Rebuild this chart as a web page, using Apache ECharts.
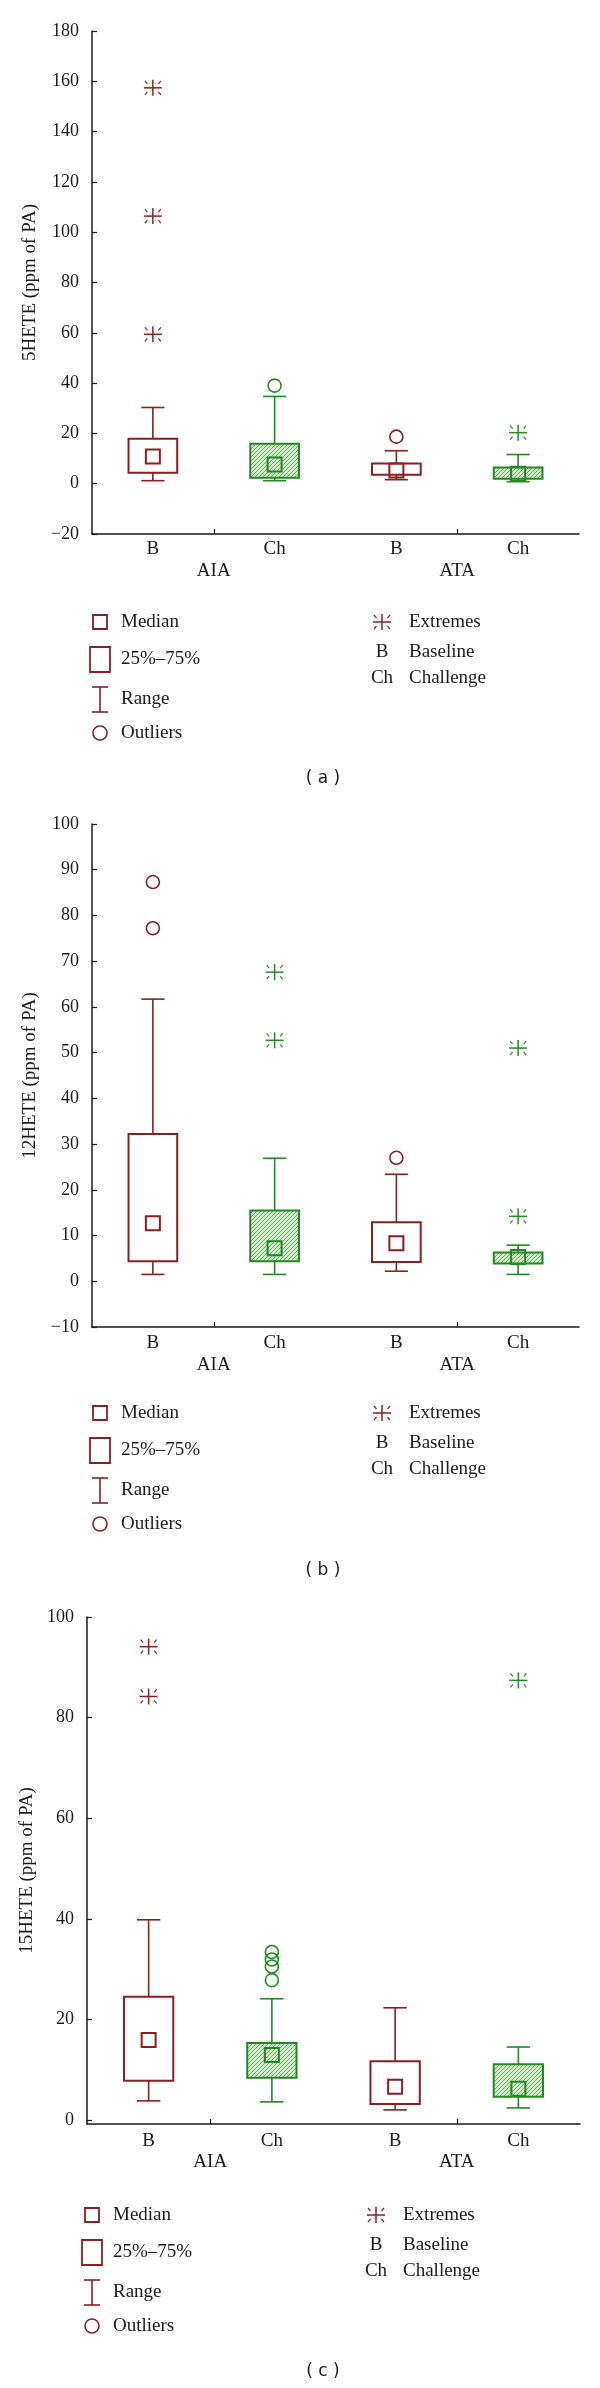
<!DOCTYPE html>
<html>
<head>
<meta charset="utf-8">
<title>HETE box plots</title>
<script src="https://cdn.jsdelivr.net/npm/echarts@6.0.0/dist/echarts.min.js"></script>
<style>
    body { margin: 0; background: #fff; }
    #chartDiv { width: 600px; height: 2388px; }
</style>
</head>
<body>
<div id="chartDiv"></div>
<script>
var catLabels = ['B', 'Ch', 'B', 'Ch'];
var groupLabels = ['AIA', 'ATA'];

// (a) 5HETE
var aMin = [1.2, 1.2, 1.6, 0.8];
var aQ1 = [4.4, 2.4, 3.6, 2.0];
var aMed = [10.8, 7.6, 5.2, 4.0];
var aQ3 = [17.9, 15.9, 8.0, 6.4];
var aMax = [30.3, 34.7, 13.1, 11.6];
var aOutliers = [[1, 39.0], [2, 18.7]];
var aExtremes = [[0, 157.4], [0, 106.4], [0, 59.4], [3, 20.3]];

// (b) 12HETE
var bMin = [1.5, 1.5, 2.2, 1.5];
var bQ1 = [4.4, 4.4, 4.2, 3.9];
var bMed = [12.7, 7.2, 8.3, 5.3];
var bQ3 = [32.2, 15.5, 12.9, 6.3];
var bMax = [61.7, 26.9, 23.4, 7.9];
var bOutliers = [[0, 87.3], [0, 77.2], [2, 27.0]];
var bExtremes = [[1, 67.6], [1, 52.7], [3, 51.0], [3, 14.2]];

// (c) 15HETE
var cMin = [3.8, 3.6, 2.0, 2.4];
var cQ1 = [7.8, 8.4, 3.2, 4.6];
var cMed = [15.9, 12.9, 6.6, 6.2];
var cQ3 = [24.5, 15.3, 11.7, 11.1];
var cMax = [39.8, 24.1, 22.3, 14.5];
var cOutliers = [[1, 33.4], [1, 31.9], [1, 30.5], [1, 27.8]];
var cExtremes = [[0, 94.1], [0, 84.2], [3, 87.4]];

var RED = '#8a1f1f';
var GREEN = '#1f8a1f';
var INK = '#1a1a1a';
var SERIF = '"Liberation Serif", "DejaVu Serif", serif';

function makeHatch() {
    var cv = document.createElement('canvas');
    cv.width = 4;
    cv.height = 4;
    var ctx = cv.getContext('2d');
    ctx.fillStyle = '#d2ebcd';
    ctx.fillRect(0, 0, 4, 4);
    ctx.strokeStyle = '#6cb064';
    ctx.lineWidth = 1;
    ctx.beginPath();
    ctx.moveTo(-1, 5);
    ctx.lineTo(5, -1);
    ctx.stroke();
    return {image: cv, repeat: 'repeat'};
}

var hatch = makeHatch();
var catColors = [RED, GREEN, RED, GREEN];
var catFills = ['none', hatch, 'none', hatch];

function boxRows(mins, q1s, meds, q3s, maxs) {
    var rows = [];
    for (var i = 0; i < mins.length; i++) {
        rows.push([i, mins[i], q1s[i], meds[i], q3s[i], maxs[i]]);
    }
    return rows;
}

function renderBox(params, api) {
    var i = api.value(0);
    var x = api.coord([i, 0])[0];
    var band = api.size([1, 0])[0];
    var half = band * 0.2;
    var cap = band * 0.095;
    var yMin = api.coord([i, api.value(1)])[1];
    var yQ1 = api.coord([i, api.value(2)])[1];
    var yMed = api.coord([i, api.value(3)])[1];
    var yQ3 = api.coord([i, api.value(4)])[1];
    var yMax = api.coord([i, api.value(5)])[1];
    var c = catColors[i];
    var ls = {stroke: c, lineWidth: 1.6, fill: null};
    return {
        type: 'group',
        children: [
            {type: 'rect', shape: {x: x - half, y: yQ3, width: half * 2, height: yQ1 - yQ3},
                style: {fill: catFills[i], stroke: c, lineWidth: 2}},
            {type: 'line', shape: {x1: x, y1: yQ3, x2: x, y2: yMax}, style: ls},
            {type: 'line', shape: {x1: x - cap, y1: yMax, x2: x + cap, y2: yMax}, style: ls},
            {type: 'line', shape: {x1: x, y1: yQ1, x2: x, y2: yMin}, style: ls},
            {type: 'line', shape: {x1: x - cap, y1: yMin, x2: x + cap, y2: yMin}, style: ls},
            {type: 'rect', shape: {x: x - 7, y: yMed - 7, width: 14, height: 14},
                style: {fill: 'none', stroke: c, lineWidth: 2}}
        ]
    };
}

function renderOutlier(params, api) {
    var i = api.value(0);
    var p = api.coord([i, api.value(1)]);
    return {type: 'circle', shape: {cx: p[0], cy: p[1], r: 6.5},
        style: {fill: 'none', stroke: catColors[i], lineWidth: 1.6}};
}

function starShape(cx, cy, c) {
    var ls = {stroke: c, lineWidth: 1.5};
    var kids = [
        {type: 'line', shape: {x1: cx - 9, y1: cy, x2: cx + 9, y2: cy}, style: ls},
        {type: 'line', shape: {x1: cx, y1: cy - 8, x2: cx, y2: cy + 8}, style: ls}
    ];
    var dirs = [[-1, -1], [1, -1], [-1, 1], [1, 1]];
    for (var k = 0; k < dirs.length; k++) {
        var dx = dirs[k][0], dy = dirs[k][1];
        kids.push({type: 'line',
            shape: {x1: cx + dx * 5.5, y1: cy + dy * 4, x2: cx + dx * 8, y2: cy + dy * 7},
            style: {stroke: c, lineWidth: 1.2}});
    }
    return kids;
}

function renderExtreme(params, api) {
    var i = api.value(0);
    var p = api.coord([i, api.value(1)]);
    return {type: 'group', children: starShape(p[0], p[1], catColors[i])};
}

function minusFmt(v) {
    return String(v).replace('-', '\u2212');
}

var panels = [
    {top: 31, bottom: 534, left: 92, right: 579, name: '5HETE (ppm of PA)',
        y: {min: -20, max: 180, interval: 20},
        rows: boxRows(aMin, aQ1, aMed, aQ3, aMax), outliers: aOutliers, extremes: aExtremes,
        legendY: 622, legX: 100, legX2: 382, tag: '( a )', tagY: 779, catMargin: 6, grpMargin: 28},
    {top: 824, bottom: 1327, left: 92, right: 579, name: '12HETE (ppm of PA)',
        y: {min: -10, max: 100, interval: 10},
        rows: boxRows(bMin, bQ1, bMed, bQ3, bMax), outliers: bOutliers, extremes: bExtremes,
        legendY: 1413, legX: 100, legX2: 382, tag: '( b )', tagY: 1571, catMargin: 7, grpMargin: 29},
    {top: 1617, bottom: 2124, left: 87, right: 580, name: '15HETE (ppm of PA)',
        y: {min: -0.8, max: 100, custom: [0, 20, 40, 60, 80, 100]},
        rows: boxRows(cMin, cQ1, cMed, cQ3, cMax), outliers: cOutliers, extremes: cExtremes,
        legendY: 2215, legX: 92, legX2: 376, tag: '( c )', tagY: 2372, catMargin: 8, grpMargin: 29}
];

function legendGraphics(p) {
    var g = [];
    var y0 = p.legendY;
    var x = p.legX;
    var tx = x + 21;
    var ts = {fill: INK, font: '19px ' + SERIF, verticalAlign: 'middle'};
    var ls = {stroke: RED, lineWidth: 1.6, fill: null};

    g.push({type: 'rect', shape: {x: x - 7, y: y0 - 7, width: 14, height: 14}, style: {fill: 'none', stroke: RED, lineWidth: 1.8}});
    g.push({type: 'text', x: tx, y: y0, style: Object.assign({text: 'Median'}, ts)});

    g.push({type: 'rect', shape: {x: x - 10, y: y0 + 37 - 12, width: 20, height: 25}, style: {fill: 'none', stroke: RED, lineWidth: 1.8}});
    g.push({type: 'text', x: tx, y: y0 + 37, style: Object.assign({text: '25%\u201375%'}, ts)});

    g.push({type: 'line', shape: {x1: x, y1: y0 + 65, x2: x, y2: y0 + 90}, style: ls});
    g.push({type: 'line', shape: {x1: x - 8, y1: y0 + 65, x2: x + 8, y2: y0 + 65}, style: ls});
    g.push({type: 'line', shape: {x1: x - 8, y1: y0 + 90, x2: x + 8, y2: y0 + 90}, style: ls});
    g.push({type: 'text', x: tx, y: y0 + 77, style: Object.assign({text: 'Range'}, ts)});

    g.push({type: 'circle', shape: {cx: x, cy: y0 + 111, r: 7}, style: {fill: 'none', stroke: RED, lineWidth: 1.6}});
    g.push({type: 'text', x: tx, y: y0 + 111, style: Object.assign({text: 'Outliers'}, ts)});

    var x2 = p.legX2;
    var tx2 = x2 + 27;
    g.push({type: 'group', children: starShape(x2, y0, RED)});
    g.push({type: 'text', x: tx2, y: y0, style: Object.assign({text: 'Extremes'}, ts)});
    g.push({type: 'text', x: x2, y: y0 + 30, style: Object.assign({text: 'B', align: 'center'}, ts)});
    g.push({type: 'text', x: tx2, y: y0 + 30, style: Object.assign({text: 'Baseline'}, ts)});
    g.push({type: 'text', x: x2, y: y0 + 56, style: Object.assign({text: 'Ch', align: 'center'}, ts)});
    g.push({type: 'text', x: tx2, y: y0 + 56, style: Object.assign({text: 'Challenge'}, ts)});

    g.push({type: 'text', x: 323, y: p.tagY, style: {text: p.tag, fill: INK, font: '17px "DejaVu Sans", sans-serif', align: 'center', verticalAlign: 'middle'}});
    return g;
}

function buildOption() {
    var grids = [], xAxes = [], yAxes = [], series = [], graphics = [];
    for (var k = 0; k < panels.length; k++) {
        var p = panels[k];
        grids.push({left: p.left, top: p.top, width: p.right - p.left, height: p.bottom - p.top});

        xAxes.push({
            type: 'category', gridIndex: k, data: catLabels, position: 'bottom',
            axisLine: {onZero: false, lineStyle: {color: INK, width: 1.5}},
            axisTick: {show: false},
            axisLabel: {color: INK, fontFamily: SERIF, fontSize: 19, margin: p.catMargin}
        });
        xAxes.push({
            type: 'category', gridIndex: k, data: groupLabels, position: 'bottom',
            axisLine: {show: false, onZero: false},
            axisTick: {show: true, inside: true, length: 5, alignWithLabel: true, lineStyle: {color: INK, width: 1.2}},
            axisLabel: {color: INK, fontFamily: SERIF, fontSize: 19, margin: p.grpMargin}
        });

        var ya = {
            type: 'value', gridIndex: k, min: p.y.min, max: p.y.max,
            name: p.name, nameLocation: 'middle', nameRotate: 90, nameGap: 50,
            nameTextStyle: {color: INK, fontFamily: SERIF, fontSize: 19},
            axisLine: {show: true, lineStyle: {color: INK, width: 1.5}},
            axisTick: {show: true, inside: true, length: 5, lineStyle: {color: INK, width: 1.2}},
            axisLabel: {color: INK, fontFamily: SERIF, fontSize: 18, margin: 13, formatter: minusFmt},
            splitLine: {show: false}
        };
        if (p.y.custom) {
            ya.axisTick.customValues = p.y.custom;
            ya.axisLabel.customValues = p.y.custom;
        } else {
            ya.interval = p.y.interval;
        }
        yAxes.push(ya);

        series.push({type: 'custom', xAxisIndex: k * 2, yAxisIndex: k, renderItem: renderBox,
            encode: {x: 0, y: [1, 2, 3, 4, 5]}, data: p.rows, clip: false});
        series.push({type: 'custom', xAxisIndex: k * 2, yAxisIndex: k, renderItem: renderOutlier,
            encode: {x: 0, y: 1}, data: p.outliers});
        series.push({type: 'custom', xAxisIndex: k * 2, yAxisIndex: k, renderItem: renderExtreme,
            encode: {x: 0, y: 1}, data: p.extremes});

        graphics = graphics.concat(legendGraphics(p));
    }
    return {
        backgroundColor: '#fff',
        animation: false,
        grid: grids,
        xAxis: xAxes,
        yAxis: yAxes,
        series: series,
        graphic: graphics
    };
}

var myChart = echarts.init(document.getElementById('chartDiv'));
myChart.setOption(buildOption());
</script>
</body>
</html>
